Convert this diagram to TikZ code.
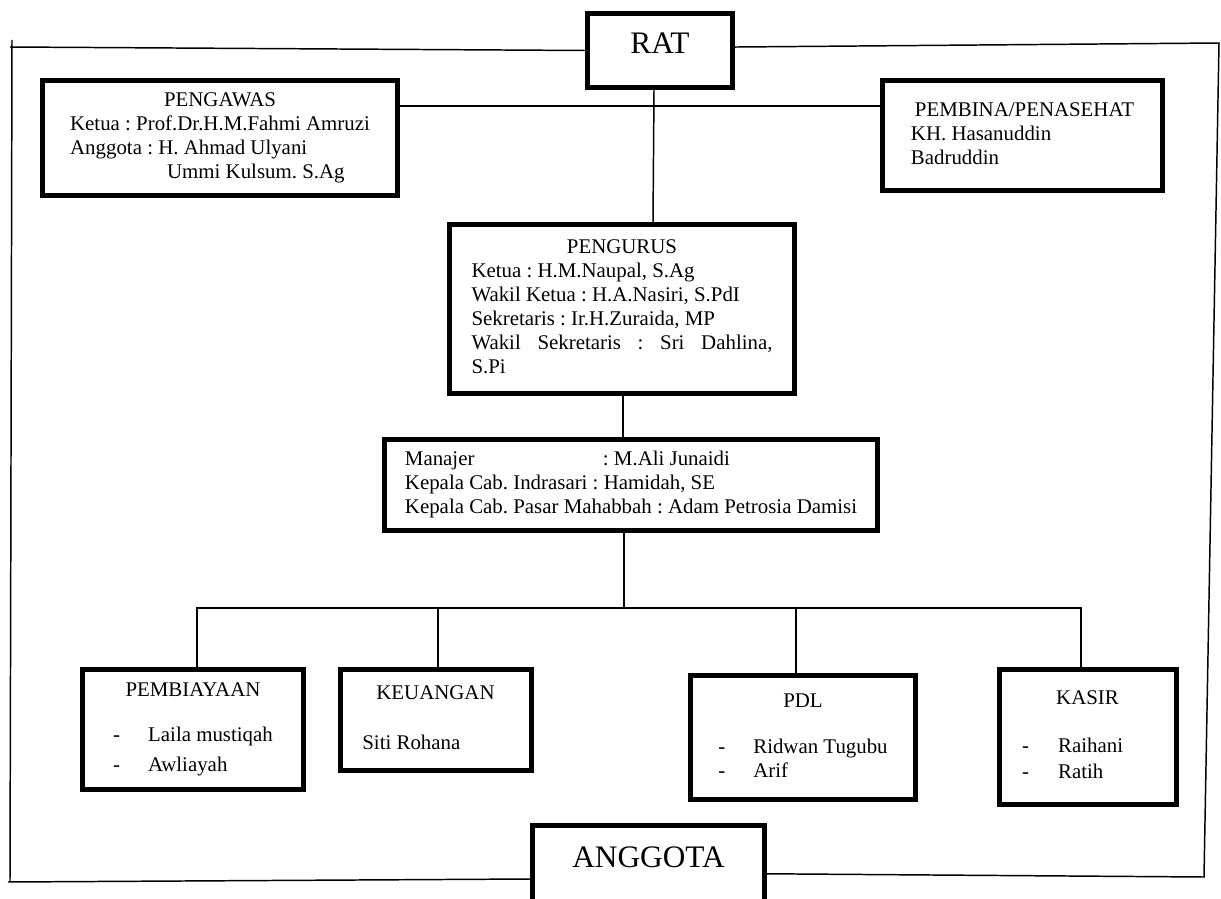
\documentclass[tikz,border=0pt]{standalone}
\usepackage{fontspec}
\setmainfont{Liberation Serif}
\usepackage{tikz}

\newlength\pxu
\setlength\pxu{0.575pt}
\frenchspacing

\tikzset{boxsize/.style 2 args={minimum width=#1*\pxu, minimum height=#2*\pxu}}

\begin{document}
\begin{tikzpicture}[x=0.575pt,y=-0.575pt]
      \tikzstyle{every node}+=[inner sep=0pt, font=\fontsize{12}{13.8}\selectfont]
      \tikzstyle{box}=[draw=black, line width=2.9pt, rectangle]
      \tikzstyle{big}=[font=\fontsize{18}{21}\selectfont, text height=11.9pt]
      \tikzstyle{line}=[draw=black, line width=0.85pt]
      \useasboundingbox (0,0) rectangle (1221,899);

      % top
      \node[box, big, boxsize={145}{74}, text depth=7.9pt] (rat) at (660,50.5) {RAT};
      \node[box, boxsize={355}{115}] (pengawas) at (220,138) {%
        \begin{tabular}{@{}l@{}}
        \multicolumn{1}{@{}c@{}}{PENGAWAS}\\
        Ketua : Prof.Dr.H.M.Fahmi Amruzi\\
        Anggota : H. Ahmad Ulyani\\
        \hspace*{97\pxu}Ummi Kulsum. S.Ag
        \end{tabular}};
      \node[box, boxsize={280}{110}] (pembina) at (1022.5,135.5) {%
        \begin{tabular}{@{}l@{}}
        \hspace*{4\pxu}PEMBINA/PENASEHAT\\
        KH. Hasanuddin\\
        Badruddin
        \end{tabular}};

      % middle
      \node[box, boxsize={345}{169}] (pengurus) at (622,309) {%
        \begin{tabular}{@{}l@{}}
        \multicolumn{1}{@{}c@{}}{PENGURUS}\\
        Ketua : H.M.Naupal, S.Ag\\
        Wakil Ketua : H.A.Nasiri, S.PdI\\
        Sekretaris : Ir.H.Zuraida, MP\\
        \makebox[301\pxu][s]{Wakil Sekretaris : Sri Dahlina,}\\
        S.Pi
        \end{tabular}};
      \node[box, boxsize={493}{91}] (manajer) at (631,485) {%
        \begin{tabular}{@{}l@{}}
        \makebox[198\pxu][l]{Manajer}: M.Ali Junaidi\\
        Kepala Cab. Indrasari : Hamidah, SE\\
        Kepala Cab. Pasar Mahabbah : Adam Petrosia Damisi
        \end{tabular}};

      % bottom
      \node[box, boxsize={221}{120}] (pembiayaan) at (193,729.5) {%
        \begin{tabular}{@{}l@{}}
        \multicolumn{1}{@{}c@{}}{PEMBIAYAAN}\\[21\pxu]
        \makebox[35\pxu][l]{-}Laila mustiqah\\[6\pxu]
        \makebox[35\pxu][l]{-}Awliayah
        \end{tabular}};
      \node[box, boxsize={191}{101}] (keuangan) at (436,720) {%
        \begin{tabular}{@{}l@{}}
        \hspace*{14\pxu}KEUANGAN\hspace*{15\pxu}\\[26\pxu]
        Siti Rohana
        \end{tabular}};
      \node[box, boxsize={225}{124}] (pdl) at (803,737.5) {%
        \begin{tabular}{@{}l@{}}
        \multicolumn{1}{@{}c@{}}{PDL}\\[22\pxu]
        \makebox[35\pxu][l]{-}Ridwan Tugubu\\
        \makebox[35\pxu][l]{-}Arif
        \end{tabular}};
      \node[box, boxsize={177}{135}] (kasir) at (1088,737) {%
        \begin{tabular}{@{}l@{}}
        \hspace*{34\pxu}KASIR\hspace*{35\pxu}\\[24\pxu]
        \makebox[36\pxu][l]{-}Raihani\\[2\pxu]
        \makebox[36\pxu][l]{-}Ratih
        \end{tabular}};
      \node[box, big, boxsize={232}{107}, text depth=25.7pt] (anggota) at (648.5,879) {ANGGOTA};

      % frame
      \coordinate (topL) at (10,47);
      \coordinate (frameNW) at (12,40);
      \coordinate (frameSW) at (10,882);
      \coordinate (botL) at (8,882);
      \coordinate (frameNE) at (1219,43);
      \coordinate (frameSE) at (1204,877);
      \draw[line] (rat.west) -- (topL);
      \draw[line] (frameNW) -- (frameSW);
      \draw[line] (anggota.west) -- (botL);
      \draw[line] ([yshift=2pt]rat.east) -- (frameNE) -- (frameSE) -- ([yshift=3pt]anggota.east);

      % links
      \draw[line] (pengawas.east |- 0,106) -- (pembina.west |- 0,106);
      \draw[line] (654,0 |- rat.south) -- (653,0 |- pengurus.north);
      \draw[line] (623,0 |- pengurus.south) -- (623,0 |- manajer.north);
      \coordinate (busL) at (197,608);
      \coordinate (busR) at (1081,608);
      \draw[line] (624,0 |- manajer.south) -- (624,608);
      \draw[line] (busL |- pembiayaan.north) -- (busL) -- (busR) -- (busR |- kasir.north);
      \draw[line] (438,608) -- (438,0 |- keuangan.north);
      \draw[line] (796,608) -- (796,0 |- pdl.north);
\end{tikzpicture}
\end{document}
